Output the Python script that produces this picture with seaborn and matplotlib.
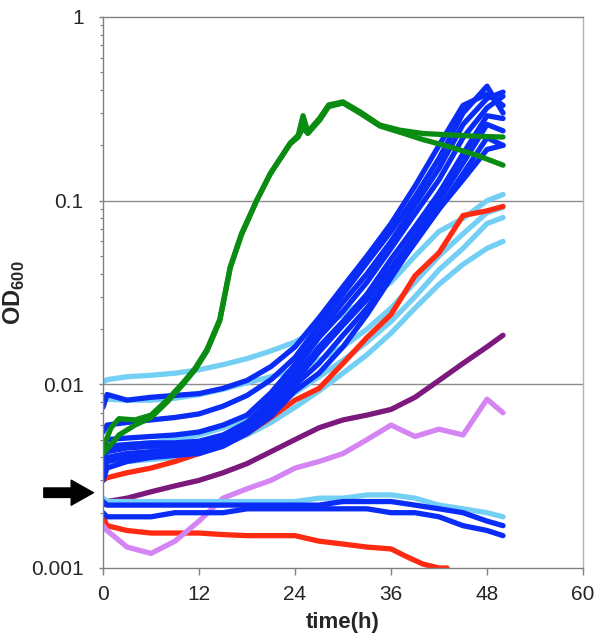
"""Growth curves (OD600 vs time) on a log scale."""

import matplotlib
matplotlib.use("Agg")
import matplotlib.pyplot as plt
import matplotlib.ticker as mticker
import seaborn as sns

sns.set_style("white")
plt.rcParams['font.family'] = ['Liberation Sans', 'DejaVu Sans']
plt.rcParams['mathtext.fontset'] = 'custom'
plt.rcParams['mathtext.bf'] = 'Liberation Sans:bold'
plt.rcParams['mathtext.rm'] = 'Liberation Sans'

# shared sampling times (h)
T = [0, 0.5, 3, 6, 9, 12, 15, 18, 21, 24, 27, 30, 33, 36, 39, 42, 45, 48, 50]

# dark blue, growing
blue_1 = [0.0075, 0.0088, 0.0082, 0.0085, 0.0087, 0.0089, 0.0095, 0.0105, 0.0125, 0.0160,
          0.023, 0.034, 0.050, 0.075, 0.12, 0.20, 0.33, 0.38, 0.33]
blue_2 = [0.0055, 0.0060, 0.0062, 0.0064, 0.0066, 0.0069, 0.0076, 0.0087, 0.0106, 0.0140,
          0.021, 0.031, 0.046, 0.068, 0.105, 0.17, 0.30, 0.42, 0.30]
blue_3 = [0.0045, 0.0050, 0.0051, 0.0052, 0.0053, 0.0055, 0.0060, 0.0068, 0.0090, 0.0128,
          0.019, 0.028, 0.040, 0.060, 0.095, 0.15, 0.26, 0.36, 0.39]
blue_4 = [0.0042, 0.0046, 0.0047, 0.0048, 0.0048, 0.0049, 0.0053, 0.0062, 0.0083, 0.0120,
          0.018, 0.025, 0.036, 0.055, 0.085, 0.13, 0.22, 0.32, 0.37]
blue_5 = [0.0040, 0.0043, 0.0045, 0.0046, 0.0046, 0.0047, 0.0051, 0.0060, 0.0078, 0.0110,
          0.016, 0.022, 0.031, 0.048, 0.072, 0.11, 0.18, 0.29, 0.28]
blue_6 = [0.0036, 0.0040, 0.0042, 0.0043, 0.0044, 0.0045, 0.0049, 0.0058, 0.0074, 0.0104,
          0.015, 0.021, 0.029, 0.043, 0.065, 0.10, 0.16, 0.26, 0.24]
blue_7 = [0.0033, 0.0038, 0.0040, 0.0041, 0.0042, 0.0043, 0.0047, 0.0056, 0.0070, 0.0099,
          0.013, 0.0185, 0.026, 0.039, 0.059, 0.09, 0.14, 0.22, 0.20]
blue_8 = [0.0030, 0.0035, 0.0038, 0.0040, 0.0041, 0.0042, 0.0046, 0.0054, 0.0067, 0.0092,
          0.0115, 0.016, 0.024, 0.038, 0.060, 0.09, 0.13, 0.19, 0.20]

# light blue, growing
light_1 = [0.0103, 0.0106, 0.0110, 0.0112, 0.0115, 0.0120, 0.0128, 0.0138, 0.0152, 0.0170,
           0.020, 0.024, 0.029, 0.036, 0.050, 0.068, 0.080, 0.100, 0.108]
light_2 = [0.0085, 0.0083, 0.0082, 0.0082, 0.0084, 0.0088, 0.0094, 0.0102, 0.0110, 0.0120,
           0.0135, 0.016, 0.020, 0.026, 0.036, 0.050, 0.066, 0.086, 0.092]
light_3 = [0.0045, 0.0046, 0.0047, 0.0048, 0.0050, 0.0053, 0.0058, 0.0065, 0.0075, 0.0090,
           0.011, 0.0135, 0.017, 0.022, 0.030, 0.042, 0.055, 0.075, 0.081]
light_4 = [0.0036, 0.0037, 0.0038, 0.0039, 0.0040, 0.0042, 0.0047, 0.0053, 0.0062, 0.0075,
           0.0092, 0.0115, 0.0145, 0.019, 0.026, 0.035, 0.045, 0.055, 0.060]

# red, growing
red_up = [0.0030, 0.0031, 0.0033, 0.0035, 0.0038, 0.0042, 0.0047, 0.0054, 0.0066, 0.0082,
          0.0095, 0.013, 0.018, 0.024, 0.039, 0.052, 0.083, 0.088, 0.093]

purple = [0.0022, 0.0023, 0.0024, 0.0026, 0.0028, 0.0030, 0.0033, 0.0037, 0.0043, 0.0050,
          0.0058, 0.0064, 0.0068, 0.0073, 0.0085, 0.0105, 0.013, 0.016, 0.0185]

lilac = [0.0017, 0.0016, 0.0013, 0.0012, 0.0014, 0.0018, 0.0024, 0.0027, 0.0030, 0.0035,
         0.0038, 0.0042, 0.0050, 0.0060, 0.0052, 0.0057, 0.0053, 0.0083, 0.0070]

# non-growing cultures
blue_flat_1 = [0.0023, 0.0022, 0.0022, 0.0022, 0.0022, 0.0022, 0.0022, 0.0022, 0.0022, 0.0022,
               0.0022, 0.0023, 0.0023, 0.0023, 0.0022, 0.0021, 0.0020, 0.0018, 0.0017]
blue_flat_2 = [0.0020, 0.0019, 0.0019, 0.0019, 0.0020, 0.0020, 0.0020, 0.0021, 0.0021, 0.0021,
               0.0021, 0.0021, 0.0021, 0.0020, 0.0020, 0.0019, 0.0017, 0.0016, 0.0015]
light_flat = [0.0024, 0.0023, 0.0023, 0.0023, 0.0023, 0.0023, 0.0023, 0.0023, 0.0023, 0.0023,
              0.0024, 0.0024, 0.0025, 0.0025, 0.0024, 0.0022, 0.0021, 0.0020, 0.0019]

T_red = [0, 0.5, 3, 6, 9, 12, 15, 18, 21, 24, 27, 30, 33, 36, 38, 40, 42, 43]
red_down = [0.0019, 0.0017, 0.0016, 0.00155, 0.00155, 0.00155, 0.00152, 0.0015, 0.0015,
            0.0015, 0.0014, 0.00135, 0.0013, 0.00127, 0.00115, 0.00105, 0.001, 0.001]

# green culture (two replicates)
T_green = [0, 1, 2, 4, 6, 8, 10, 11.5, 13, 14.6, 15.9, 17.3, 19.2, 20.9, 23.4, 24.4, 25,
           25.6, 27.1, 28.2, 30, 32.1, 34.6, 37.1, 40, 43.4, 47, 50]
green_1 = [0.0045, 0.0058, 0.0065, 0.0064, 0.0068, 0.0082, 0.0102, 0.0122, 0.0155, 0.0226,
           0.0435, 0.066, 0.10, 0.14, 0.206, 0.227, 0.29, 0.237, 0.282, 0.332, 0.345, 0.305,
           0.258, 0.242, 0.232, 0.228, 0.224, 0.222]
green_2 = [0.0042, 0.0047, 0.0053, 0.0060, 0.0066, 0.0080, 0.0100, 0.0120, 0.0152, 0.0222,
           0.0430, 0.065, 0.10, 0.14, 0.204, 0.222, 0.25, 0.232, 0.275, 0.325, 0.340, 0.300,
           0.255, 0.236, 0.215, 0.196, 0.175, 0.156]

x_ticks = [0, 12, 24, 36, 48, 60]
y_ticks = [0.001, 0.01, 0.1, 1]
y_tick_labels = ['0.001', '0.01', '0.1', '1']

BLUE = '#0a2cf7'
LIGHT = '#74cff5'
RED = '#ff2a12'
PURPLE = '#7b1a7c'
LILAC = '#d584f4'
GREEN = '#0a8c12'

series = [
    (T_red, red_down, RED),
    (T, lilac, LILAC),
    (T, purple, PURPLE),
    (T, light_flat, LIGHT),
    (T, blue_flat_1, BLUE),
    (T, blue_flat_2, BLUE),
    (T, light_1, LIGHT),
    (T, light_2, LIGHT),
    (T, light_3, LIGHT),
    (T, light_4, LIGHT),
    (T, red_up, RED),
    (T, blue_1, BLUE),
    (T, blue_2, BLUE),
    (T, blue_3, BLUE),
    (T, blue_4, BLUE),
    (T, blue_5, BLUE),
    (T, blue_6, BLUE),
    (T, blue_7, BLUE),
    (T, blue_8, BLUE),
    (T_green, green_1, GREEN),
    (T_green, green_2, GREEN),
]

fig = plt.figure(figsize=(6.0, 6.41), dpi=100)
ax = fig.add_axes([0.1717, 0.1139, 0.80, 0.8596])
ax.set_yscale('log')

for t, v, c in series:
    sns.lineplot(x=t, y=v, color=c, linewidth=3.8, sort=False, estimator=None,
                 ax=ax, solid_capstyle='round', solid_joinstyle='round')

for g in [0.01, 0.1]:
    ax.axhline(g, color='#8c8c8c', linewidth=1.0, zorder=0.5)

ax.set_xlim(0, 60)
ax.set_ylim(0.001, 1)
ax.set_xticks(x_ticks)
ax.set_xticklabels([str(x) for x in x_ticks])
ax.set_yticks(y_ticks)
ax.set_yticklabels(y_tick_labels)
ax.yaxis.set_minor_locator(mticker.LogLocator(base=10, subs=range(2, 10)))
ax.yaxis.set_minor_formatter(mticker.NullFormatter())

ax.tick_params(axis='x', direction='out', length=5, width=1, color='#808080',
               labelsize=15, pad=7, bottom=True)
ax.tick_params(axis='y', which='major', direction='out', length=3, width=1,
               color='#808080', labelsize=15, pad=11, left=True)
ax.tick_params(axis='y', which='minor', direction='out', length=2.5, width=0.8,
               color='#808080', left=True)

for side in ['left', 'bottom', 'top']:
    ax.spines[side].set_color('#808080')
    ax.spines[side].set_linewidth(1.0)
ax.spines['right'].set_color('#b4b4b4')
ax.spines['right'].set_linewidth(1.0)

ax.set_xlabel('time(h)', fontsize=16, fontweight='bold', labelpad=6)
ax.set_ylabel(r'$\mathbf{OD}_{\mathbf{600}}$', fontsize=17)
ax.yaxis.set_label_coords(-0.158, 0.5)

# arrow marking the inoculum density
ax.annotate('', xy=(-1.2, 0.00257), xytext=(-7.4, 0.00257),
            arrowprops=dict(arrowstyle='simple,head_length=0.8,head_width=0.9,tail_width=0.34',
                            color='black', mutation_scale=20, shrinkA=0, shrinkB=0),
            annotation_clip=False)

fig.savefig('out.png', dpi=100)
